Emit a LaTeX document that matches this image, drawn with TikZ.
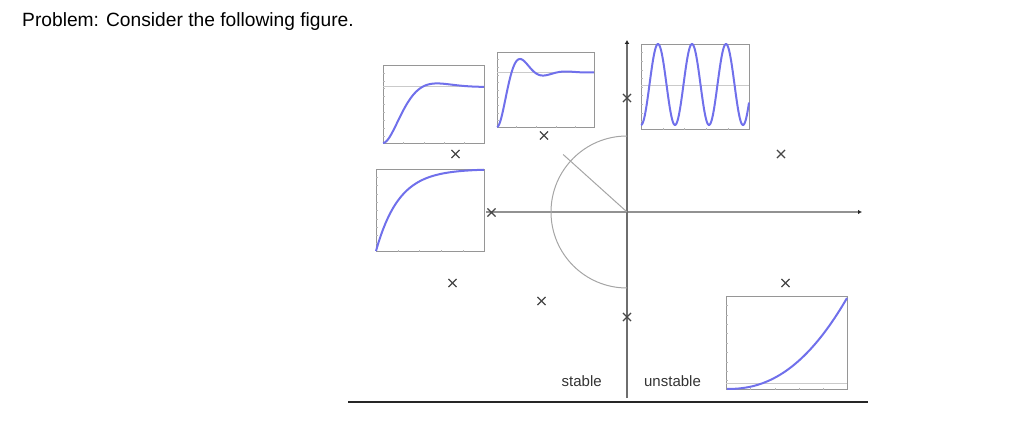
\documentclass[tikz,border=0pt]{standalone}
\usepackage{fontspec}
\setmainfont{Liberation Sans}
\definecolor{CurveBlue}{RGB}{112,112,235}
\definecolor{AxisGray}{RGB}{110,110,110}
\definecolor{FrameGray}{RGB}{150,150,150}
\definecolor{ArcGray}{RGB}{165,165,165}
\definecolor{PoleGray}{RGB}{70,70,70}
\usepackage{tikz}
\usetikzlibrary{arrows.meta, shapes.misc, calc}

\begin{document}
\begin{tikzpicture}[x=1pt, y=-1pt, every node/.style={font=\fontsize{15}{18}\selectfont},
    pole/.style={cross out, draw=PoleGray, line width=1.1pt, minimum size=7pt, inner sep=0pt},
    frame/.style={draw=FrameGray, line width=0.9pt, anchor=north west, inner sep=0pt},
    curve/.style={CurveBlue, line width=2pt, smooth},
    refline/.style={FrameGray!50, line width=0.5pt},
    tick/.style={FrameGray!70, line width=0.4pt}]
  \useasboundingbox (0,0) rectangle (1026,433);

  % Enonce
  \node[anchor=base west, inner sep=0pt, font=\fontsize{19.2}{23}\selectfont] (title) at (22,26.5) {Problem: Consider the following figure.};

  % Plan complexe
  \coordinate (o) at (627,212);
  \coordinate (xs) at (486,212);
  \coordinate (xe) at (862,212);
  \coordinate (ys) at (627,398);
  \coordinate (ye) at (627,40);
  \draw[AxisGray!75, line width=1.3pt, -{Latex[length=4pt, width=4.5pt, color=black!85]}] (xs) -- (xe);
  \draw[AxisGray, line width=1.8pt, -{Latex[length=4pt, width=5pt, color=black!85]}] (ys) -- (ye);
  \draw[ArcGray, line width=1pt] (o) ++(0,-76) arc[start angle=270, end angle=90, radius=76];
  \draw[ArcGray, line width=1pt] (o) -- ++(222:86);
  \coordinate (bl) at (348,402);
  \coordinate (br) at (868,402);
  \draw[black!85, line width=1.4pt] (bl) -- (br);

  \node[anchor=base, text=black!80] (stable) at (581.7,386) {stable};
  \node[anchor=base, text=black!80] (unstable) at (672.5,386) {unstable};

  % Poles
  \node[pole] (p1) at (627,98) {};
  \node[pole] (p2) at (627,317) {};
  \node[pole] (p3) at (455.5,154) {};
  \node[pole] (p4) at (544,135.5) {};
  \node[pole] (p5) at (491.5,212.5) {};
  \node[pole] (p6) at (452.5,283) {};
  \node[pole] (p7) at (541.5,301) {};
  \node[pole] (p8) at (781,154) {};
  \node[pole] (p9) at (785.5,283) {};

  % Reponses
  \node[frame, minimum width=101pt, minimum height=78pt] (stepA) at (383,65) {};
  \node[frame, minimum width=97pt, minimum height=75pt] (stepB) at (497,52) {};
  \node[frame, minimum width=108pt, minimum height=82pt] (stepC) at (376,169) {};
  \node[frame, minimum width=108pt, minimum height=85pt] (osc) at (641,44) {};
  \node[frame, minimum width=121pt, minimum height=93pt] (ramp) at (726,296) {};

  \foreach \n in {stepA, stepB, stepC, osc, ramp} {
    \foreach \k in {1,...,9}
      \draw[tick] ($(\n.south west)!\k/10!(\n.north west)$) -- ++(2,0);
    \foreach \k in {1,...,4}
      \draw[tick] ($(\n.south west)!\k/5!(\n.south east)$) -- ++(0,-2);
  }

  \draw[refline] (383,86.7) -- (484,86.7);
  \draw[refline] (497,72.3) -- (594,72.3);
  \draw[refline] (641,85) -- (749,85);
  \draw[refline] (726,383) -- (847,383);

  \draw[curve] plot[domain=0:101, samples=90] ({383+\x},{143-56.3*(1-exp(-0.0525*\x)*(cos(0.058*\x r)+0.903*sin(0.058*\x r)))});
  \draw[curve] plot[domain=0:97, samples=110] ({497+\x},{127-54.7*(1-exp(-0.0614*\x)*(cos(0.1366*\x r)+0.45*sin(0.1366*\x r)))});
  \draw[curve] plot[domain=0:108, samples=80] ({376+\x},{251-82*(1-exp(-\x/23))});
  \draw[curve] plot[domain=0:108, samples=200] ({641+\x},{84.5+40.5*cos(10.588*\x)});
  \draw[curve] plot[domain=1:121, samples=80] ({726+\x},{389-91*(\x/121)^2.3});
\end{tikzpicture}
\end{document}
